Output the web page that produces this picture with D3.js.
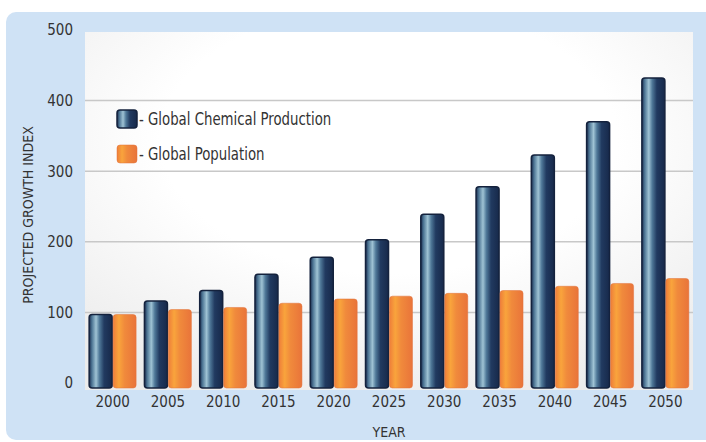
<!DOCTYPE html>
<html><head><meta charset="utf-8">
<script src="https://cdn.jsdelivr.net/npm/d3@7"></script>
<style>body{margin:0;background:#fff}svg{display:block}text{font-family:"DejaVu Sans Condensed","Liberation Sans Narrow",sans-serif;fill:#333}</style>
</head><body>
<script>
const years = ["2000","2005","2010","2015","2020","2025","2030","2035","2040","2045","2050"];
const chemical = [97,116,131,154,178,203,239,278,323,370,432];
const population = [97,104,107,113,119,123,127,131,137,141,148];
const seriesNames = ["- Global Chemical Production","- Global Population"];
const yTicks = [0,100,200,300,400,500];

(function(){
const W=706,H=442;
const FONT='"DejaVu Sans Condensed","Liberation Sans Narrow",sans-serif';
const svg=d3.select("body").append("svg").attr("width",W).attr("height",H);
const defs=svg.append("defs");
const gc=defs.append("linearGradient").attr("id","gc").attr("x1",0).attr("x2",1).attr("y1",0).attr("y2",0);
[[0,"#1a2c4e"],[0.12,"#4d7594"],[0.3,"#9fc3d4"],[0.45,"#4f7898"],[0.65,"#213a60"],[1,"#17294a"]].forEach(d=>gc.append("stop").attr("offset",d[0]).attr("stop-color",d[1]));
const go=defs.append("linearGradient").attr("id","go").attr("x1",0).attr("x2",1).attr("y1",0).attr("y2",0);
[[0,"#ee7e3a"],[0.25,"#f9a43c"],[0.5,"#f08a3c"],[1,"#e9743a"]].forEach(d=>go.append("stop").attr("offset",d[0]).attr("stop-color",d[1]));
const gp=defs.append("radialGradient").attr("id","gp").attr("cx","50%").attr("cy","30%").attr("r","75%");
gp.append("stop").attr("offset",0.5).attr("stop-color","#ffffff");
gp.append("stop").attr("offset",1).attr("stop-color","#ececec");

svg.append("rect").attr("x",6).attr("y",12).attr("width",720).attr("height",428).attr("rx",10).attr("fill","#cfe2f5");

const pLeft=85,pRight=693,pTop=30,pBottom=383;
const x=d3.scaleBand().domain(years).range([pLeft,pRight]).paddingInner(0.15).paddingOuter(0.075);
const xs=d3.scaleBand().domain([0,1]).range([0,x.bandwidth()]).paddingInner(0.04);
const y=d3.scaleLinear().domain([0,500]).range([pBottom,pTop]);

svg.append("rect").attr("x",pLeft).attr("y",32).attr("width",pRight-pLeft).attr("height",pBottom+7-32).attr("fill","url(#gp)");

svg.append("g").selectAll("line").data(yTicks.filter(d=>d>0&&d<500)).join("line")
 .attr("x1",pLeft).attr("x2",pRight).attr("y1",d=>y(d)).attr("y2",d=>y(d)).attr("stroke","#c8c8c8").attr("stroke-width",1.5);

const ya=svg.append("g").attr("transform",`translate(${pLeft-12},0)`).call(d3.axisLeft(y).tickValues(yTicks).tickSize(0).tickPadding(0));
ya.select(".domain").remove();
ya.selectAll("text").attr("font-size",15).style("font-family",FONT).attr("fill","#333");

const xa=svg.append("g").attr("transform",`translate(0,${pBottom+13})`).call(d3.axisBottom(x).tickSize(0).tickPadding(0));
xa.select(".domain").remove();
xa.selectAll("text").attr("font-size",15).attr("dy","0.71em").style("font-family",FONT).attr("fill","#333");

const series=[chemical,population];
const fills=["url(#gc)","url(#go)"];
const strokes=["#14223d","#e0703a"];
series.forEach((vals,si)=>{
  svg.append("g").selectAll("rect").data(years.map((yr,i)=>({yr,v:vals[i]}))).join("rect")
   .attr("x",d=>x(d.yr)+xs(si)).attr("width",xs.bandwidth())
   .attr("y",d=>y(d.v)).attr("height",d=>pBottom+5-y(d.v))
   .attr("rx",3).attr("fill",fills[si]).attr("stroke",strokes[si]).attr("stroke-width",si===0?1.5:0.5);
});

const lg=svg.append("g");
seriesNames.forEach((n,i)=>{
  const yy=110+i*35;
  lg.append("rect").attr("x",117).attr("y",yy).attr("width",20).attr("height",18).attr("rx",3).attr("fill",fills[i]).attr("stroke",strokes[i]).attr("stroke-width",i===0?1.5:0.5);
  lg.append("text").attr("transform",`translate(139,${yy+9}) scale(0.87,1)`).attr("dy","0.35em").attr("font-size",17).text(n);
});

svg.append("text").attr("x",389).attr("y",432).attr("text-anchor","middle").attr("dy","0.35em").attr("font-size",14).text("YEAR");
svg.append("text").attr("transform","translate(28,215) rotate(-90)").attr("text-anchor","middle").attr("dy","0.35em").attr("font-size",14).text("PROJECTED GROWTH INDEX");
})();
</script>
</body></html>
